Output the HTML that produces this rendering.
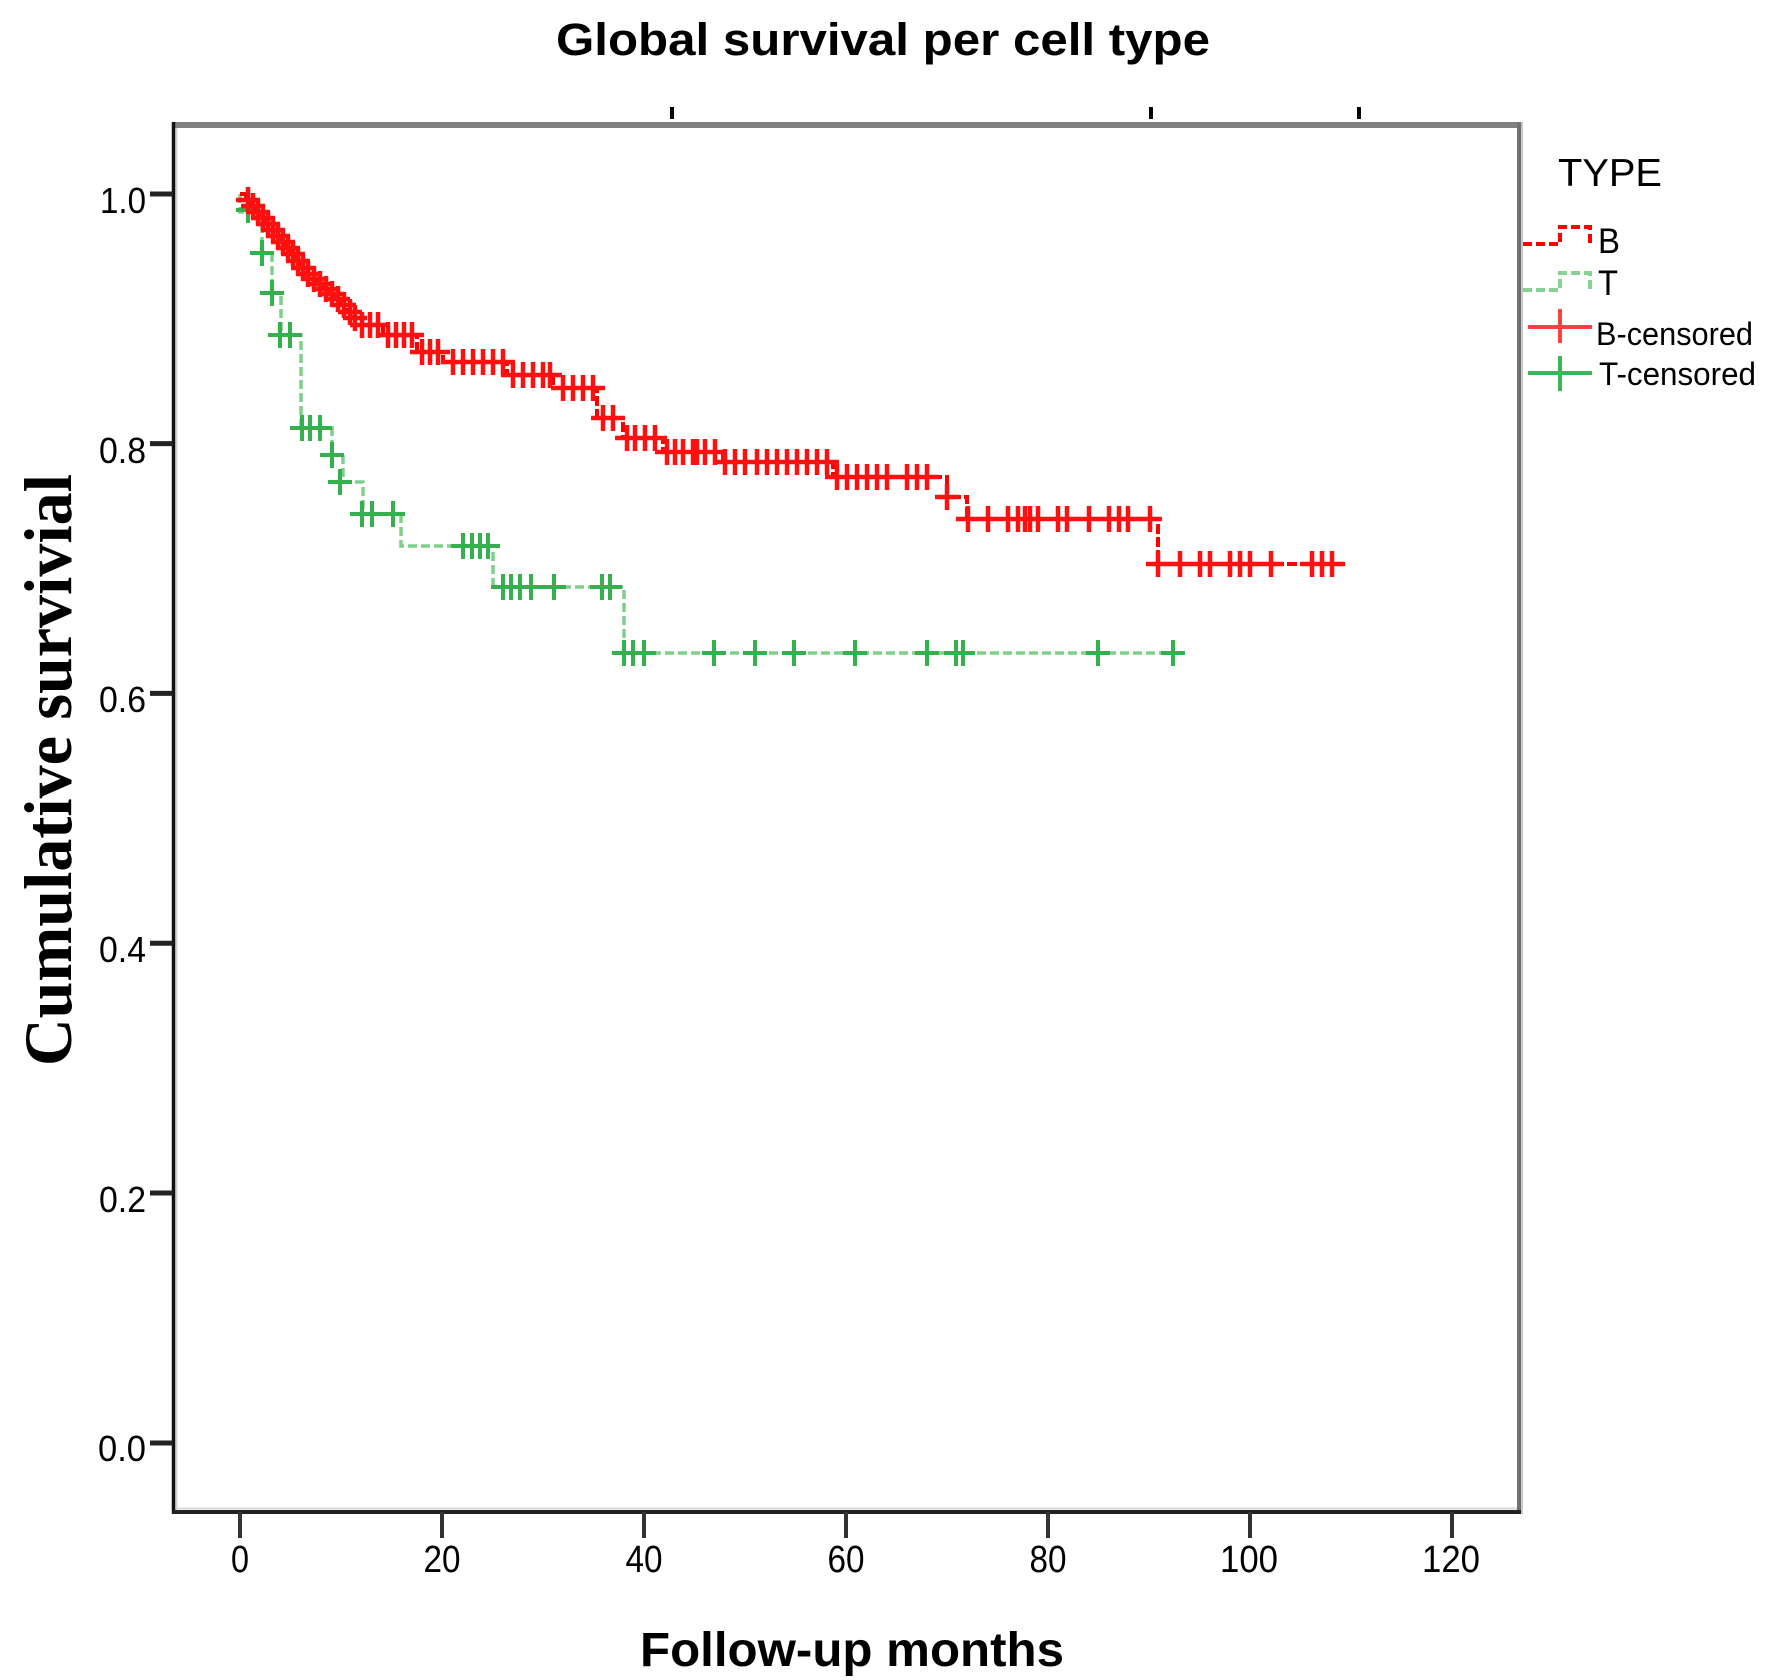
<!DOCTYPE html>
<html>
<head>
<meta charset="utf-8">
<style>
html,body{margin:0;padding:0;background:#fff;}
svg{display:block;}
text{font-family:"Liberation Sans",Arial,sans-serif;fill:#000;}
</style>
</head>
<body>
<svg width="1772" height="1680" viewBox="0 0 1772 1680" xmlns="http://www.w3.org/2000/svg">
<rect width="1772" height="1680" fill="#fff"/>

<!-- Title -->
<text x="556" y="55" font-size="45" font-weight="bold" textLength="654" lengthAdjust="spacingAndGlyphs">Global survival per cell type</text>

<!-- top small ticks -->
<rect x="670" y="107" width="4" height="12" fill="#000"/>
<rect x="1149" y="107" width="4" height="12" fill="#000"/>
<rect x="1357" y="107" width="4" height="12" fill="#000"/>

<!-- frame -->
<line x1="172" y1="125" x2="1521" y2="125" stroke="#808080" stroke-width="6"/>
<line x1="1519" y1="122" x2="1519" y2="1514" stroke="#707070" stroke-width="4"/>
<line x1="1522" y1="122" x2="1522" y2="1514" stroke="#c8c8c8" stroke-width="2"/>
<line x1="176.5" y1="128" x2="176.5" y2="1510" stroke="#d0d0d0" stroke-width="2"/>
<line x1="176" y1="1508.5" x2="1517" y2="1508.5" stroke="#d8d8d8" stroke-width="2"/>
<line x1="173.5" y1="122" x2="173.5" y2="1514" stroke="#111" stroke-width="3.5"/>
<line x1="172" y1="1512" x2="1521" y2="1512" stroke="#222" stroke-width="4"/>

<!-- y ticks -->
<g stroke="#222" stroke-width="5">
<line x1="150" y1="194" x2="173" y2="194"/>
<line x1="150" y1="443.6" x2="173" y2="443.6"/>
<line x1="150" y1="693.4" x2="173" y2="693.4"/>
<line x1="150" y1="943.2" x2="173" y2="943.2"/>
<line x1="150" y1="1193" x2="173" y2="1193"/>
<line x1="150" y1="1443" x2="173" y2="1443"/>
</g>
<g font-size="36" text-anchor="end">
<text x="146" y="213" textLength="46" lengthAdjust="spacingAndGlyphs">1.0</text>
<text x="146" y="463" textLength="47" lengthAdjust="spacingAndGlyphs">0.8</text>
<text x="146" y="712" textLength="47" lengthAdjust="spacingAndGlyphs">0.6</text>
<text x="146" y="962" textLength="47" lengthAdjust="spacingAndGlyphs">0.4</text>
<text x="146" y="1212" textLength="47" lengthAdjust="spacingAndGlyphs">0.2</text>
<text x="146" y="1461" textLength="48" lengthAdjust="spacingAndGlyphs">0.0</text>
</g>

<!-- x ticks -->
<g stroke="#333" stroke-width="4">
<line x1="240" y1="1512" x2="240" y2="1538"/>
<line x1="442" y1="1512" x2="442" y2="1538"/>
<line x1="644" y1="1512" x2="644" y2="1538"/>
<line x1="846" y1="1512" x2="846" y2="1538"/>
<line x1="1048" y1="1512" x2="1048" y2="1538"/>
<line x1="1250" y1="1512" x2="1250" y2="1538"/>
<line x1="1452" y1="1512" x2="1452" y2="1538"/>
</g>
<g font-size="38" text-anchor="middle">
<text x="240" y="1572" textLength="18" lengthAdjust="spacingAndGlyphs">0</text>
<text x="442" y="1572" textLength="37" lengthAdjust="spacingAndGlyphs">20</text>
<text x="644" y="1572" textLength="37" lengthAdjust="spacingAndGlyphs">40</text>
<text x="846" y="1572" textLength="37" lengthAdjust="spacingAndGlyphs">60</text>
<text x="1048" y="1572" textLength="37" lengthAdjust="spacingAndGlyphs">80</text>
<text x="1249" y="1572" textLength="58" lengthAdjust="spacingAndGlyphs">100</text>
<text x="1451" y="1572" textLength="58" lengthAdjust="spacingAndGlyphs">120</text>
</g>

<!-- axis titles -->
<text x="640" y="1666" font-size="48" font-weight="bold" textLength="424" lengthAdjust="spacingAndGlyphs">Follow-up months</text>
<text transform="translate(71,770) rotate(-90)" x="0" y="0" text-anchor="middle" font-size="68" font-weight="bold" textLength="592" lengthAdjust="spacingAndGlyphs" style="font-family:'Liberation Serif','Times New Roman',serif">Cumulative survivial</text>

<!-- T series -->
<path d="M240 194V212H262V253H272V293H281V335H301V428H332V455H343V482H363V514H401V546H493V587H624V653H1181" fill="none" stroke="#7fcf8c" stroke-width="3.5" stroke-dasharray="9 4"/>
<path d="M236 210h24M248 197v26M250 253h24M262 240v26M260 293h24M272 280v26M268 335h24M280 322v26M278 335h24M290 322v26M290 428h24M302 415v26M298 428h24M310 415v26M308 428h24M320 415v26M320 455h24M332 442v26M328 482h24M340 469v26M350 514h24M362 501v26M360 514h24M372 501v26M381 514h24M393 501v26M451 546h24M463 533v26M460 546h24M472 533v26M468 546h24M480 533v26M476 546h24M488 533v26M491 587h24M503 574v26M499 587h24M511 574v26M508 587h24M520 574v26M519 587h24M531 574v26M542 587h24M554 574v26M590 587h24M602 574v26M598 587h24M610 574v26M612 653h24M624 640v26M621 653h24M633 640v26M632 653h24M644 640v26M702 653h24M714 640v26M743 653h24M755 640v26M782 653h24M794 640v26M843 653h24M855 640v26M915 653h24M927 640v26M944 653h24M956 640v26M951 653h24M963 640v26M1086 653h24M1098 640v26M1161 653h24M1173 640v26" fill="none" stroke="#34b04c" stroke-width="4"/>

<!-- B series -->
<path d="M240 194H246V200H251V206H256V212H261V218H266V224H271V230H276V236H281V242H286V248H291V254H296V261H301V268H306V274H311V279H317V284H323V289H329V294H335V299H341V305H347V312H353V318H358V325H383V335H417V352H443V362H507V375H553V388H597V418H623V438H663V452H723V462H833V477H947V497H967V519H1158V564H1345" fill="none" stroke="#ff0000" stroke-width="4" stroke-dasharray="10 3"/>
<path d="M236 200h24M248 187v26M241 206h24M253 193v26M246 212h24M258 199v26M251 218h24M263 205v26M256 224h24M268 211v26M261 230h24M273 217v26M266 236h24M278 223v26M271 242h24M283 229v26M276 248h24M288 235v26M281 254h24M293 241v26M286 261h24M298 248v26M291 268h24M303 255v26M296 274h24M308 261v26M302 279h24M314 266v26M308 284h24M320 271v26M314 289h24M326 276v26M320 294h24M332 281v26M326 299h24M338 286v26M332 305h24M344 292v26M338 312h24M350 299v26M343 318h24M355 305v26M350 325h24M362 312v26M358 325h24M370 312v26M366 325h24M378 312v26M376 335h24M388 322v26M384 335h24M396 322v26M392 335h24M404 322v26M400 335h24M412 322v26M410 352h24M422 339v26M418 352h24M430 339v26M426 352h24M438 339v26M441 362h24M453 349v26M451 362h24M463 349v26M461 362h24M473 349v26M471 362h24M483 349v26M481 362h24M493 349v26M491 362h24M503 349v26M501 375h24M513 362v26M511 375h24M523 362v26M521 375h24M533 362v26M531 375h24M543 362v26M538 375h24M550 362v26M551 388h24M563 375v26M561 388h24M573 375v26M571 388h24M583 375v26M581 388h24M593 375v26M591 418h24M603 405v26M601 418h24M613 405v26M615 438h24M627 425v26M623 438h24M635 425v26M633 438h24M645 425v26M643 438h24M655 425v26M655 452h24M667 439v26M663 452h24M675 439v26M671 452h24M683 439v26M681 452h24M693 439v26M685 452h24M697 439v26M693 452h24M705 439v26M703 452h24M715 439v26M713 462h24M725 449v26M723 462h24M735 449v26M733 462h24M745 449v26M745 462h24M757 449v26M755 462h24M767 449v26M765 462h24M777 449v26M775 462h24M787 449v26M785 462h24M797 449v26M795 462h24M807 449v26M805 462h24M817 449v26M815 462h24M827 449v26M825 477h24M837 464v26M835 477h24M847 464v26M845 477h24M857 464v26M855 477h24M867 464v26M865 477h24M877 464v26M875 477h24M887 464v26M895 477h24M907 464v26M905 477h24M917 464v26M915 477h24M927 464v26M935 497h24M947 484v26M956 519h24M968 506v26M976 519h24M988 506v26M996 519h24M1008 506v26M1006 519h24M1018 506v26M1013 519h24M1025 506v26M1018 519h24M1030 506v26M1026 519h24M1038 506v26M1046 519h24M1058 506v26M1055 519h24M1067 506v26M1077 519h24M1089 506v26M1097 519h24M1109 506v26M1107 519h24M1119 506v26M1116 519h24M1128 506v26M1138 519h24M1150 506v26M1146 564h24M1158 551v26M1168 564h24M1180 551v26M1188 564h24M1200 551v26M1198 564h24M1210 551v26M1218 564h24M1230 551v26M1228 564h24M1240 551v26M1238 564h24M1250 551v26M1259 564h24M1271 551v26M1300 564h24M1312 551v26M1310 564h24M1322 551v26M1320 564h24M1332 551v26" fill="none" stroke="#ff1010" stroke-width="4.5" transform="translate(0,0)"/>

<!-- Legend -->
<text x="1558" y="186" font-size="39" textLength="104" lengthAdjust="spacingAndGlyphs">TYPE</text>
<path d="M1523 244H1560V227H1590V243" fill="none" stroke="#ff0000" stroke-width="4" stroke-dasharray="9 4"/>
<text x="1598" y="253" font-size="35" textLength="22" lengthAdjust="spacingAndGlyphs">B</text>
<path d="M1523 290H1560V273H1590V290" fill="none" stroke="#86d193" stroke-width="4" stroke-dasharray="9 4"/>
<text x="1598" y="295" font-size="35" textLength="20" lengthAdjust="spacingAndGlyphs">T</text>
<path d="M1528 327H1592M1560 309V343" fill="none" stroke="#ff4040" stroke-width="4"/>
<text x="1596" y="345" font-size="32" textLength="157" lengthAdjust="spacingAndGlyphs">B-censored</text>
<path d="M1528 373H1592M1560 356V391" fill="none" stroke="#3cb55a" stroke-width="4"/>
<text x="1599" y="385" font-size="32" textLength="157" lengthAdjust="spacingAndGlyphs">T-censored</text>
</svg>
</body>
</html>
